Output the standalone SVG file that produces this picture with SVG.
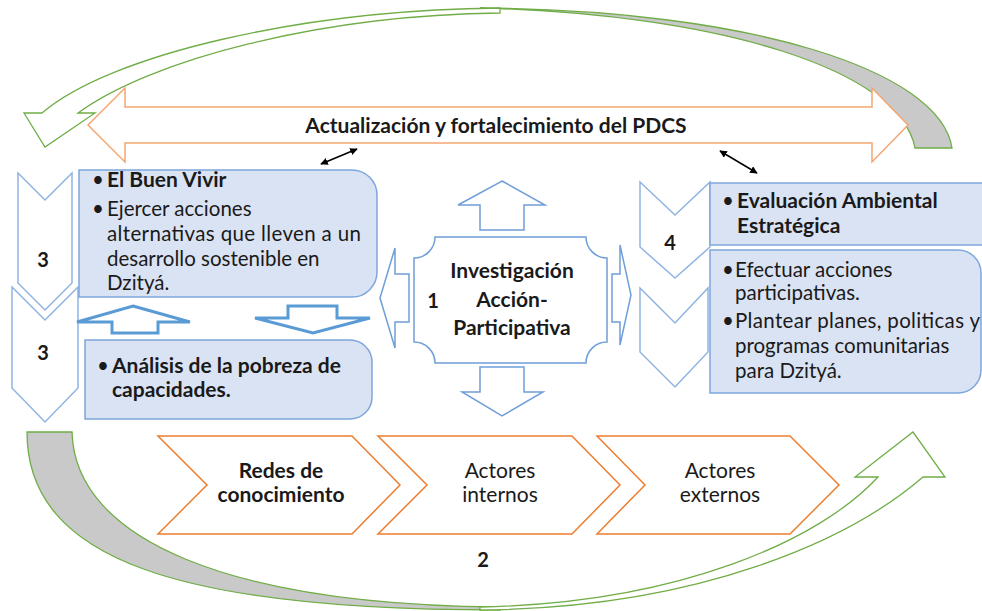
<svg xmlns="http://www.w3.org/2000/svg" width="982" height="611" viewBox="0 0 982 611">
<defs>
<style>
.t{font-family:Lato,"Open Sans","Liberation Sans",sans-serif;fill:#1a1a1a}
.b{font-weight:bold}
.hb{font-size:21px;font-weight:bold}
.r{font-size:20.5px}
.r21{font-size:21px}
.num{font-size:20px;font-weight:bold}
.green{stroke:#70ad47;stroke-width:1.3;stroke-linejoin:miter}
.chevB{fill:#fff;stroke:#8fb4e3;stroke-width:1.5}
.box{fill:#dae3f3;stroke:#7ea6dc;stroke-width:1.5}
.thick{fill:#fff;stroke:#5b9bd5;stroke-width:3}
.thin{fill:#fff;stroke:#6f9ed8;stroke-width:1.5}
.chevO{fill:#fff;stroke:#ed7d31;stroke-width:1.5}
</style>
<marker id="ah" viewBox="0 0 10 10" refX="9" refY="5" markerWidth="5" markerHeight="5" orient="auto-start-reverse"><path d="M0,0 L10,5 L0,10 Z" fill="#000"/></marker>
</defs>
<rect width="982" height="611" fill="#fff"/>

<g id="curved-top">
<path class="green" fill="#c9c9c9" d="M952,148 C940,70 750,10 480,8 C720,14 900,70 915,148 Z"/>
<path class="green" fill="#fff" d="M500,8 C300,10 110,55 42,113 L24,113 L45,147 L95,113 L78,113 C150,60 320,15 500,13 Z"/>
</g>

<g id="curved-bottom">
<path class="green" fill="#c9c9c9" d="M27,432 C27,560 180,610 500,610 L500,607 C230,605 75,540 72,432 Z"/>
<path class="green" fill="#fff" d="M480,610 C700,608 850,540 923,477 L945,477 L913,432 L855,477 L878,477 C820,540 680,603 480,607 Z"/>
</g>

<g id="pdcs-arrow">
<path d="M88,125 L125,88 L125,107 L872,107 L872,88 L908,125 L872,162 L872,143 L125,143 L125,162 Z" fill="#fff" stroke="#f4a672" stroke-width="1.5"/>
<text class="t hb" x="496" y="133" text-anchor="middle">Actualización y fortalecimiento del PDCS</text>
</g>

<g id="chevron-3a">
<path class="chevB" d="M18,173 L45,200 L72,173 L72,283 L45,310 L18,283 Z"/>
<text class="t num" x="43" y="267" text-anchor="middle">3</text>
</g>
<g id="chevron-3b">
<path class="chevB" d="M12,287 L45,320 L78,287 L78,388 L45,422 L12,388 Z"/>
<text class="t num" x="43" y="360" text-anchor="middle">3</text>
</g>

<g id="buen-vivir">
<path class="box" d="M79,170 H352 A25,25 0 0 1 377,195 V272 A25,25 0 0 1 352,297 H79 Z"/>
<text class="t r" x="92" y="187">•</text>
<text class="t hb" x="107" y="187">El Buen Vivir</text>
<text class="t r" x="92" y="216">•</text>
<text class="t r" x="107" y="216">Ejercer acciones</text>
<text class="t r" x="107" y="241" textLength="254" lengthAdjust="spacing">alternativas que lleven a un</text>
<text class="t r" x="107" y="266">desarrollo sostenible en</text>
<text class="t r" x="107" y="290">Dzityá.</text>
</g>

<g id="analisis">
<path class="box" d="M85,340 H350 A22,22 0 0 1 372,362 V397 A22,22 0 0 1 350,419 H85 Z"/>
<text class="t r" x="97" y="373">•</text>
<text class="t hb" x="112" y="373">Análisis de la pobreza de</text>
<text class="t hb" x="112" y="397">capacidades.</text>
</g>

<g id="arrow-up-small">
<path class="thick" d="M133,306 L190,322 L158,322 L158,333 L112,333 L112,322 L77,322 Z"/>
</g>
<g id="arrow-down-small">
<path class="thick" d="M288,306 L337,306 L337,318 L370,318 L313,333 L255,318 L288,318 Z"/>
</g>

<g id="iap">
<path class="thin" d="M435,237 H586 A21,21 0 0 0 607,258 V342 A21,21 0 0 0 586,363 H435 A21,21 0 0 0 414,342 V258 A21,21 0 0 0 435,237 Z"/>
<text class="t hb" x="512" y="278" text-anchor="middle">Investigación</text>
<text class="t hb" x="512" y="307" text-anchor="middle">Acción-</text>
<text class="t hb" x="512" y="335" text-anchor="middle">Participativa</text>
<text class="t num" x="433" y="308" text-anchor="middle">1</text>
</g>
<g id="iap-up"><path class="thin" d="M502,181 L545,205 L524,205 L524,230 L480,230 L480,205 L458,205 Z"/></g>
<g id="iap-down"><path class="thin" d="M480,367 L524,367 L524,392 L543,392 L502,416 L462,392 L480,392 Z"/></g>
<g id="iap-left"><path class="thin" d="M380,298 L395,248 L395,274 L409,274 L409,322 L395,322 L395,348 Z"/></g>
<g id="iap-right"><path class="thin" d="M620,245 L631,295 L620,345 L620,322 L612,322 L612,274 L620,274 Z"/></g>

<g id="chevron-4a">
<path class="chevB" d="M640,182 L675,215 L710,182 L710,247 L675,278 L640,247 Z"/>
<text class="t num" x="670" y="250" text-anchor="middle">4</text>
</g>
<g id="chevron-4b">
<path class="chevB" d="M640,288 L675,323 L708,288 L708,352 L675,387 L640,352 Z"/>
</g>

<g id="evaluacion">
<rect class="box" x="710" y="183" width="285" height="62"/>
<text class="t r" x="722" y="208">•</text>
<text class="t hb" x="737" y="208">Evaluación Ambiental</text>
<text class="t hb" x="737" y="233">Estratégica</text>
</g>

<g id="acciones">
<path class="box" d="M710,250 H958 A23,23 0 0 1 981,273 V370 A23,23 0 0 1 958,393 H710 Z"/>
<text class="t r" x="722" y="277">•</text>
<text class="t r" x="735" y="277">Efectuar acciones</text>
<text class="t r" x="735" y="300">participativas.</text>
<text class="t r" x="722" y="328">•</text>
<text class="t r" x="735" y="328" textLength="245" lengthAdjust="spacing">Plantear planes, politicas y</text>
<text class="t r" x="735" y="353">programas comunitarias</text>
<text class="t r" x="735" y="378">para Dzityá.</text>
</g>

<g id="redes">
<path class="chevO" d="M158,436 L352,436 L400,485 L352,534 L158,534 L207,485 Z"/>
<text class="t hb" x="281" y="478" text-anchor="middle">Redes de</text>
<text class="t hb" x="281" y="502" text-anchor="middle">conocimiento</text>
</g>
<g id="internos">
<path class="chevO" d="M378,436 L572,436 L620,485 L572,534 L378,534 L427,485 Z"/>
<text class="t r21" x="500" y="478" text-anchor="middle">Actores</text>
<text class="t r21" x="500" y="502" text-anchor="middle">internos</text>
</g>
<g id="externos">
<path class="chevO" d="M597,436 L790,436 L839,485 L790,534 L597,534 L645,485 Z"/>
<text class="t r21" x="720" y="478" text-anchor="middle">Actores</text>
<text class="t r21" x="720" y="502" text-anchor="middle">externos</text>
</g>

<g id="label-2">
<text class="t num" x="483" y="567" text-anchor="middle">2</text>
</g>

<g id="connectors" stroke="#000" stroke-width="1.5" fill="none">
<line x1="321" y1="164" x2="357" y2="149" marker-start="url(#ah)" marker-end="url(#ah)"/>
<line x1="720" y1="151" x2="757" y2="173" marker-start="url(#ah)" marker-end="url(#ah)"/>
</g>
</svg>
